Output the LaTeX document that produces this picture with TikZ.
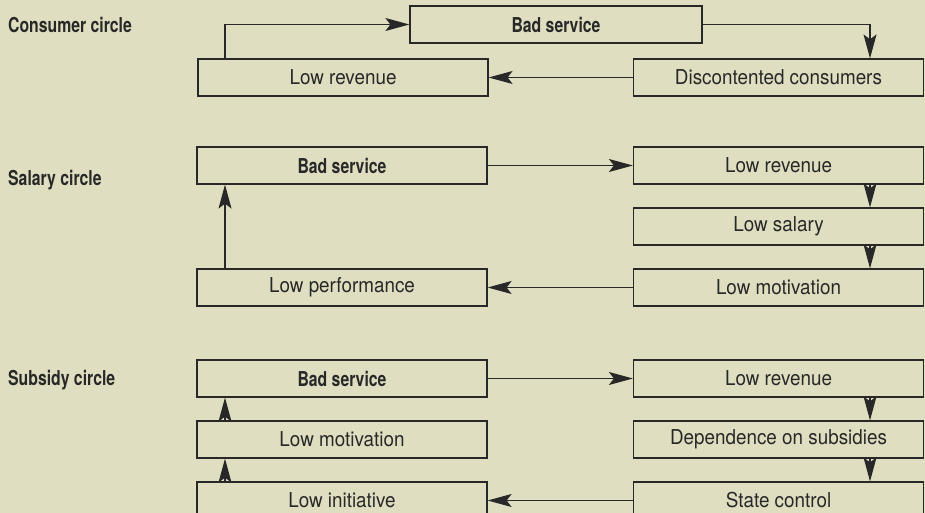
\documentclass[tikz,border=0pt]{standalone}
\usepackage{fontspec}
\newfontfamily\boxfont[FakeStretch=0.92]{TeX Gyre Heros}
\newfontfamily\tagfont[FakeStretch=0.77]{TeX Gyre Heros}
\usepackage{tikz}
\usetikzlibrary{arrows.meta,positioning}
\definecolor{paper}{RGB}{223,222,192}
\definecolor{ink}{RGB}{40,40,40}
\tikzstyle{block} = [rectangle, draw=ink, line width=1.2pt, text=ink,
    minimum width=290pt, minimum height=37pt, inner sep=0pt,
    font=\boxfont\fontsize{20.5}{23}\selectfont]
\tikzstyle{boldblock} = [block, font=\tagfont\bfseries\fontsize{20.5}{23}\selectfont]
\tikzstyle{circletag} = [anchor=west, inner sep=0pt, text=ink,
    font=\tagfont\bfseries\fontsize{20.5}{23}\selectfont]
\tikzstyle{line} = [draw=ink, line width=1.3pt, -{Stealth[length=24pt,width=13pt,inset=5pt]}]

\begin{document}
\begin{tikzpicture}[x=1pt, y=-1pt, node distance=61pt]
    \fill [paper] (0,0) rectangle (925,513);
    \clip (0,0) rectangle (925,513);
    % Place nodes
    % consumer circle
    \node [circletag] (consumerTag) at (8,25) {Consumer circle};
    \node [boldblock, minimum width=292pt] (cBad) at (556,24.5) {Bad service};
    \node [block] (cLow) at (343,77.5) {Low revenue};
    \node [block, right of=cLow, node distance=435.5pt] (cDis) {Discontented consumers};
    % salary circle
    \node [circletag] (salaryTag) at (8,180) {Salary circle};
    \node [boldblock] (sBad) at (342,165.5) {Bad service};
    \node [block, right of=sBad, node distance=436.5pt] (sRev) {Low revenue};
    \node [block, below of=sRev] (sSal) {Low salary};
    \node [block, below of=sSal] (sMot) {Low motivation};
    \node [block, left of=sMot, node distance=436.5pt] (sPerf) {Low performance};
    % subsidy circle
    \node [circletag] (subsidyTag) at (8,380) {Subsidy circle};
    \node [boldblock, below of=sPerf, node distance=91pt] (bBad) {Bad service};
    \node [block, right of=bBad, node distance=436.5pt] (bRev) {Low revenue};
    \node [block, below of=bRev] (bDep) {Dependence on subsidies};
    \node [block, below of=bDep] (bState) {State control};
    \node [block, below of=bBad] (bMot) {Low motivation};
    \node [block, below of=bMot] (bIni) {Low initiative};

    % Draw edges
    \path [line] ([xshift=-118pt]cLow.north) |- (cBad.west);
    \path [line] (cBad.east) -| ([xshift=91.5pt]cDis.north);
    \path [line] (cDis.west) -- (cLow.east);

    \path [line] (sBad.east) -- (sRev.west);
    \path [line] ([xshift=91.5pt]sRev.south) -- ([xshift=91.5pt]sSal.north);
    \path [line] ([xshift=91.5pt]sSal.south) -- ([xshift=91.5pt]sMot.north);
    \path [line] (sMot.west) -- (sPerf.east);
    \path [line] ([xshift=-117pt]sPerf.north) -- ([xshift=-117pt]sBad.south);

    \path [line] (bBad.east) -- (bRev.west);
    \path [line] ([xshift=91.5pt]bRev.south) -- ([xshift=91.5pt]bDep.north);
    \path [line] ([xshift=91.5pt]bDep.south) -- ([xshift=91.5pt]bState.north);
    \path [line] (bState.west) -- (bIni.east);
    \path [line] ([xshift=-117pt]bIni.north) -- ([xshift=-117pt]bMot.south);
    \path [line] ([xshift=-117pt]bMot.north) -- ([xshift=-117pt]bBad.south);
\end{tikzpicture}
\end{document}
